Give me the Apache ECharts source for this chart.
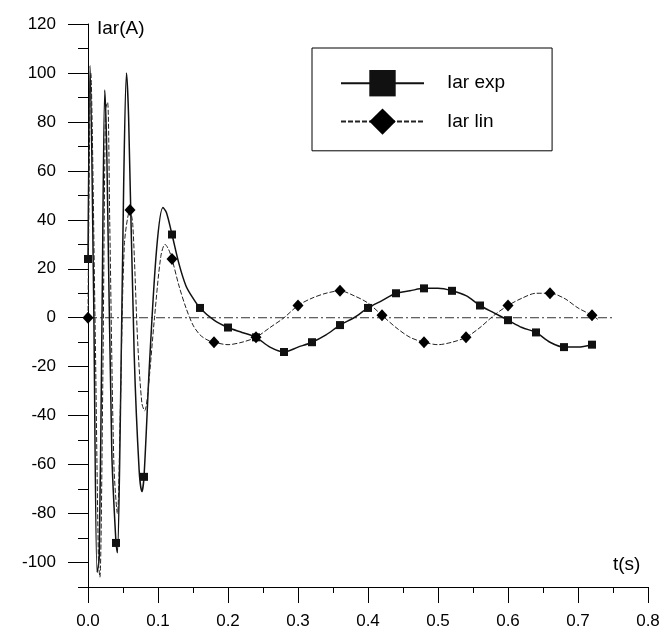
<!DOCTYPE html>
<html>
<head>
<meta charset="utf-8">
<script src="https://cdn.jsdelivr.net/npm/echarts@6/dist/echarts.min.js"></script>
<style>
  html, body { margin: 0; padding: 0; background: #fff; }
  #chart { width: 665px; height: 639px; }
</style>
</head>
<body>
<div id="chart"></div>
<script>
// Iar exp: time (s) and current (A)
var expT = [0, 0.003, 0.008, 0.013, 0.016, 0.020, 0.024, 0.027, 0.034, 0.040, 0.042, 0.046, 0.051, 0.055, 0.058,
  0.066, 0.073, 0.077, 0.080, 0.088, 0.098, 0.107, 0.112, 0.12, 0.13, 0.14, 0.15, 0.16, 0.18, 0.20, 0.22, 0.24,
  0.26, 0.28, 0.30, 0.32, 0.34, 0.36, 0.38, 0.40, 0.42, 0.44, 0.46, 0.48, 0.50, 0.52, 0.54, 0.56, 0.58, 0.60,
  0.62, 0.64, 0.66, 0.68, 0.70, 0.72];
var expV = [24, 103, 10, -104, -98, 0, 93, 65, -55, -92, -96, -45, 55, 100, 82,
  -15, -62, -71, -65, -18, 28, 45, 43, 34, 22, 13, 8, 4, -1, -4, -6, -8,
  -12, -14, -12, -10, -7, -3, 0, 4, 7, 10, 11, 12, 12, 11, 9, 5, 2, -1,
  -4, -6, -10, -12, -12, -11];
var expMarkT = [0, 0.04, 0.08, 0.12, 0.16, 0.20, 0.24, 0.28, 0.32, 0.36, 0.40, 0.44, 0.48, 0.52, 0.56, 0.60, 0.64, 0.68, 0.72];

// Iar lin
var linT = [0, 0.004, 0.010, 0.015, 0.017, 0.021, 0.025, 0.028, 0.031, 0.037, 0.042, 0.046, 0.052, 0.06, 0.064,
  0.071, 0.077, 0.081, 0.085, 0.095, 0.104, 0.110, 0.115, 0.12, 0.13, 0.14, 0.15, 0.16, 0.17, 0.18, 0.20, 0.22,
  0.24, 0.26, 0.28, 0.30, 0.32, 0.34, 0.36, 0.38, 0.40, 0.42, 0.44, 0.46, 0.48, 0.50, 0.52, 0.54, 0.56, 0.58,
  0.60, 0.62, 0.64, 0.66, 0.68, 0.70, 0.72, 0.73];
var linV = [0, 100, 0, -100, -106, -30, 85, 88, 40, -60, -80, -40, 30, 44, 38,
  -10, -35, -38, -32, 0, 25, 30, 28, 24, 13, 4, -3, -7, -9, -10, -11, -10,
  -8, -4, 0, 5, 8, 10, 11, 9, 6, 1, -4, -8, -10, -11, -10, -8, -4, 1,
  5, 8, 10, 10, 8, 4, 1, -1];
var linMarkT = [0, 0.06, 0.12, 0.18, 0.24, 0.30, 0.36, 0.42, 0.48, 0.54, 0.60, 0.66, 0.72];

// zero reference line
var zeroT = [0, 0.75];
var zeroV = [0, 0];

var xTicks = [0, 0.1, 0.2, 0.3, 0.4, 0.5, 0.6, 0.7, 0.8];
var yTicks = [-100, -80, -60, -40, -20, 0, 20, 40, 60, 80, 100, 120];
var yMinorTicks = [-110, -90, -70, -50, -30, -10, 10, 30, 50, 70, 90, 110];

function build(ts, vs, marks, sym) {
  return ts.map(function (t, i) {
    var isMark = marks.some(function (m) { return Math.abs(m - t) < 1e-6; });
    return { value: [t, vs[i]], symbol: isMark ? sym : 'none' };
  });
}

var chart = echarts.init(document.getElementById('chart'));
var font = 'Liberation Sans, Arial, sans-serif';

chart.setOption({
  animation: false,
  grid: { left: 88, right: 17, top: 24, bottom: 52 },
  legend: {
    orient: 'vertical',
    left: 312,
    top: 48,
    padding: [22, 47, 16, 28],
    itemWidth: 83,
    itemHeight: 33,
    itemGap: 12,
    borderColor: '#000',
    borderWidth: 1,
    textStyle: { fontFamily: font, fontSize: 19, color: '#000', padding: [0, 0, 0, 18] },
    data: ['Iar exp', 'Iar lin']
  },
  xAxis: {
    type: 'value',
    min: 0,
    max: 0.8,
    interval: 0.1,
    axisLine: { show: true, onZero: false, lineStyle: { color: '#000', width: 1 } },
    axisTick: { show: true, inside: false, length: 16, lineStyle: { color: '#000' } },
    minorTick: { show: true, splitNumber: 2, length: 6, lineStyle: { color: '#000' } },
    splitLine: { show: false },
    axisLabel: {
      customValues: xTicks,
      margin: 26,
      fontFamily: font, fontSize: 17, color: '#000',
      formatter: function (v) { return v.toFixed(1); }
    }
  },
  yAxis: [{
    type: 'value',
    min: -110,
    max: 120,
    position: 'left',
    axisLine: { show: true, onZero: false, lineStyle: { color: '#000', width: 1 } },
    axisTick: { show: true, customValues: yTicks, length: 20, lineStyle: { color: '#000' } },
    splitLine: { show: false },
    axisLabel: {
      customValues: yTicks,
      margin: 32,
      fontFamily: font, fontSize: 17, color: '#000'
    }
  }, {
    type: 'value',
    min: -110,
    max: 120,
    position: 'left',
    offset: 0,
    axisLine: { show: false, onZero: false },
    axisTick: { show: true, customValues: yMinorTicks, length: 10, lineStyle: { color: '#000' } },
    splitLine: { show: false },
    axisLabel: { show: false }
  }],
  graphic: [
    { type: 'text', left: 97, top: 19, style: { text: 'Iar(A)', font: '19px ' + font, fill: '#000' } },
    { type: 'text', left: 613, top: 555, style: { text: 't(s)', font: '19px ' + font, fill: '#000' } }
  ],
  series: [{
    name: 'zero',
    type: 'line',
    data: zeroT.map(function (t, i) { return [t, zeroV[i]]; }),
    showSymbol: false,
    lineStyle: { color: '#333', width: 1, type: [9, 3, 2, 3] },
    silent: true
  }, {
    name: 'Iar exp',
    type: 'line',
    data: build(expT, expV, expMarkT, 'rect'),
    symbol: 'rect',
    symbolSize: 8,
    smooth: 0.3,
    itemStyle: { color: '#111' },
    lineStyle: { color: '#111', width: 1.5 }
  }, {
    name: 'Iar lin',
    type: 'line',
    data: build(linT, linV, linMarkT, 'diamond'),
    symbol: 'diamond',
    symbolSize: [11, 12],
    smooth: 0.3,
    itemStyle: { color: '#000' },
    lineStyle: { color: '#222', width: 1, type: [5, 2] }
  }]
});
</script>
</body>
</html>
